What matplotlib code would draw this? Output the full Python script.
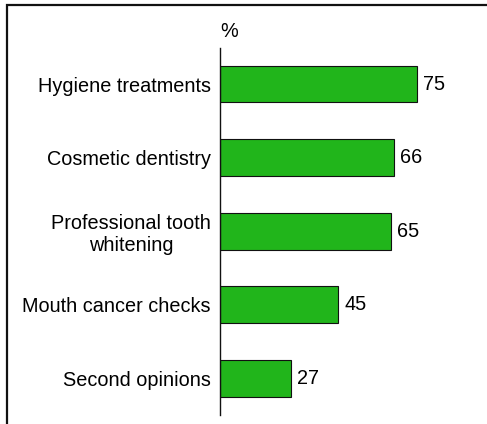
import matplotlib
matplotlib.use("Agg")
import matplotlib.pyplot as plt
from matplotlib.patches import Rectangle

categories = ["Hygiene treatments", "Cosmetic dentistry", "Professional tooth\nwhitening",
              "Mouth cancer checks", "Second opinions"]
values = [75, 66, 65, 45, 27]
unit_label = "%"

plt.rcParams['font.family'] = ['Liberation Sans', 'DejaVu Sans']
W, H = 487, 424
fig = plt.figure(figsize=(W / 100, H / 100), dpi=100)
ax = fig.add_axes([220 / W, 1 - 415 / H, 263 / W, (415 - 48) / H])

pos = list(range(len(categories)))
ax.barh(pos, values, height=0.5, color='#21b51b', edgecolor='#111111', linewidth=0.8)
ax.set_ylim(4.5, -0.49)
ax.set_xlim(0, 100)

for s in ['top', 'right', 'bottom']:
    ax.spines[s].set_visible(False)
ax.spines['left'].set_linewidth(1.0)
ax.spines['left'].set_color('#111111')
ax.set_xticks([])
ax.set_yticks(pos)
ax.set_yticklabels(categories, fontsize=14.3, multialignment='center')
ax.tick_params(axis='y', length=0, pad=6.5)

for p, v in zip(pos, values):
    ax.annotate(str(v), xy=(v, p), xytext=(6, 0), textcoords='offset pixels',
                ha='left', va='center', fontsize=14.3)

fig.text(220 / W, 1 - 37 / H, unit_label, ha='left', va='baseline', fontsize=14.3)

fig.patches.append(Rectangle((7 / W, -0.1), 1.2, 1 - 5 / H + 0.1, transform=fig.transFigure,
                             fill=False, edgecolor='#111111', linewidth=1.6, clip_on=False))

fig.savefig("out.png", dpi=100)
